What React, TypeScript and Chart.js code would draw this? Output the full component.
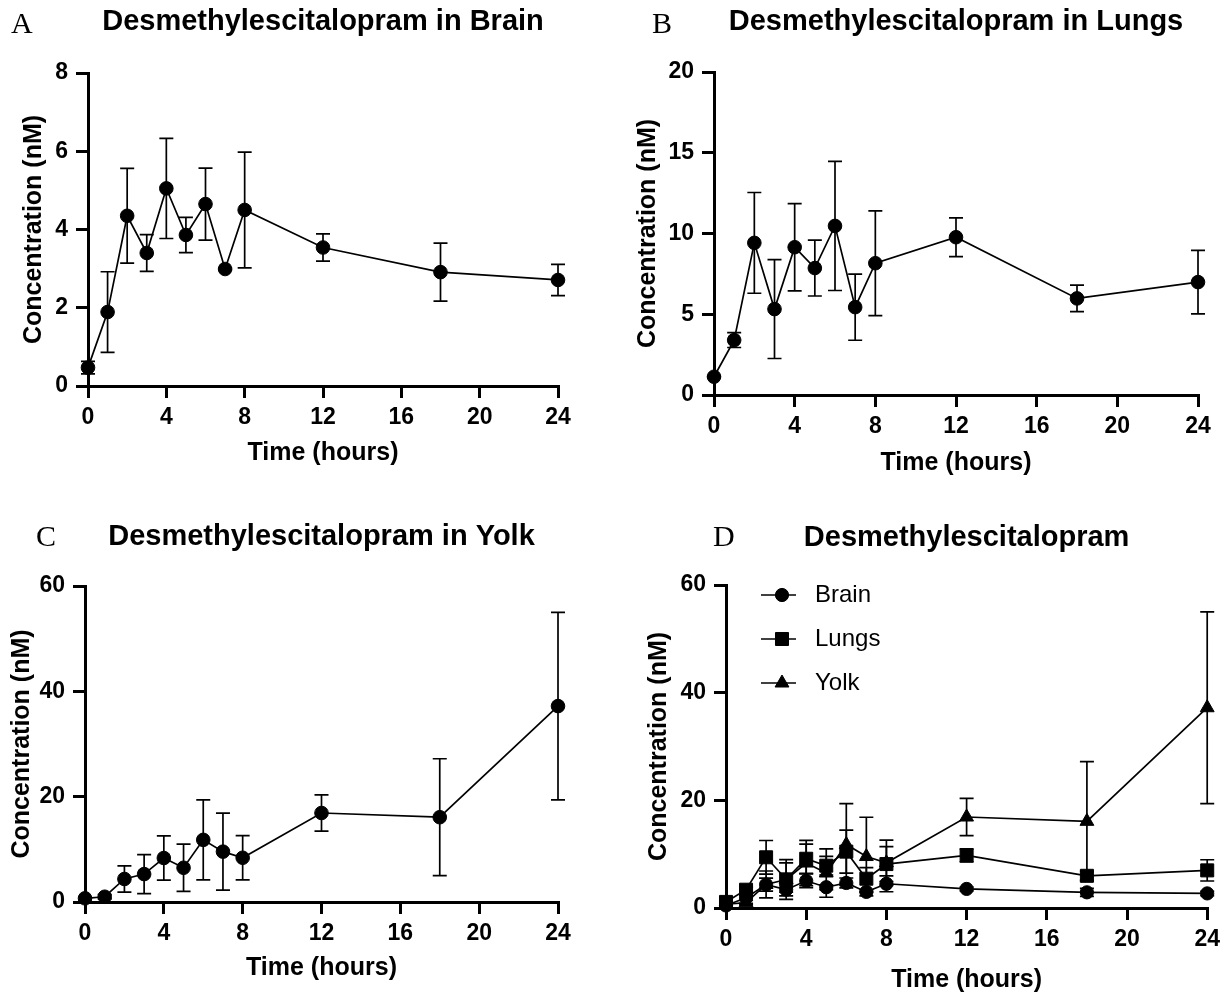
import React, { useEffect, useRef } from 'react';
import { Chart, registerables } from 'chart.js';

Chart.register(...registerables);

// ---------- data ----------
const times = [0, 1, 2, 3, 4, 5, 6, 7, 8, 12, 18, 24];

const brainMean = [0.47, 1.89, 4.35, 3.4, 5.05, 3.86, 4.65, 2.99, 4.5, 3.54, 2.91, 2.71];
const brainSD = [0.16, 1.03, 1.21, 0.47, 1.28, 0.45, 0.92, 0.03, 1.48, 0.35, 0.74, 0.4];

const lungsMean = [1.13, 3.4, 9.42, 5.32, 9.15, 7.86, 10.47, 5.44, 8.16, 9.77, 5.98, 6.99];
const lungsSD = [0.05, 0.46, 3.12, 3.06, 2.7, 1.73, 4.0, 2.05, 3.24, 1.2, 0.82, 1.97];

const yolkMean = [0.7, 1.0, 4.37, 5.3, 8.35, 6.5, 11.8, 9.56, 8.4, 16.9, 16.1, 37.2];
const yolkSD = [0.3, 0.4, 2.5, 3.7, 4.2, 4.5, 7.6, 7.3, 4.2, 3.45, 11.1, 17.8];

const xTickValues = [0, 4, 8, 12, 16, 20, 24];
const brainYTicks = [0, 2, 4, 6, 8];
const lungsYTicks = [0, 5, 10, 15, 20];
const yolkYTicks = [0, 20, 40, 60];
const combinedYTicks = [0, 20, 40, 60];

const xAxisTitle = 'Time (hours)';
const yAxisTitle = 'Concentration (nM)';

// ---------- styles ----------
const SANS = "'Liberation Sans', Arial, Helvetica, sans-serif";
const SERIF = "'Liberation Serif', 'Times New Roman', serif";
const W = 613;
const H = 498;
const TITLE_SIZE = 29;
const AXIS_TITLE_SIZE = 25;
const TICK_SIZE = 23;

type Series = { label: string; mean: number[]; sd: number[]; style: string; radius: number };
type Panel = {
  left: number;
  top: number;
  letter: string;
  letterX: number;
  letterY: number;
  title: string;
  titleCenter: number;
  area: { l: number; t: number; r: number; b: number };
  yTicks: number[];
  yTitleCenter: number;
  xTitleFromBottom: number;
  series: Series[];
  legend?: { x0: number; x1: number; mx: number; tx: number; rows: number[] };
};

const panels: Panel[] = [
  {
    left: 0, top: 0, letter: 'A', letterX: 11, letterY: 33,
    title: 'Desmethylescitalopram in Brain', titleCenter: 22,
    area: { l: 88, t: 73, r: 558, b: 386 },
    yTicks: brainYTicks, yTitleCenter: 34, xTitleFromBottom: 45,
    series: [{ label: 'Brain', mean: brainMean, sd: brainSD, style: 'circle', radius: 6.8 }],
  },
  {
    left: 613, top: 0, letter: 'B', letterX: 39, letterY: 33,
    title: 'Desmethylescitalopram in Lungs', titleCenter: 22,
    area: { l: 101, t: 72, r: 585, b: 395 },
    yTicks: lungsYTicks, yTitleCenter: 35, xTitleFromBottom: 35,
    series: [{ label: 'Lungs', mean: lungsMean, sd: lungsSD, style: 'circle', radius: 6.8 }],
  },
  {
    left: 0, top: 498, letter: 'C', letterX: 36, letterY: 48,
    title: 'Desmethylescitalopram in Yolk', titleCenter: 39,
    area: { l: 85, t: 88, r: 558, b: 404 },
    yTicks: yolkYTicks, yTitleCenter: 22, xTitleFromBottom: 28,
    series: [{ label: 'Yolk', mean: yolkMean, sd: yolkSD, style: 'circle', radius: 6.8 }],
  },
  {
    left: 613, top: 498, letter: 'D', letterX: 100, letterY: 48,
    title: 'Desmethylescitalopram', titleCenter: 39.5,
    area: { l: 113, t: 87, r: 595, b: 410 },
    yTicks: combinedYTicks, yTitleCenter: 46, xTitleFromBottom: 16,
    series: [
      { label: 'Brain', mean: brainMean, sd: brainSD, style: 'circle', radius: 6.6 },
      { label: 'Lungs', mean: lungsMean, sd: lungsSD, style: 'rect', radius: 9.2 },
      { label: 'Yolk', mean: yolkMean, sd: yolkSD, style: 'triangle', radius: 8 },
    ],
    legend: { x0: 35, x1: 70, mx: 56, tx: 89, rows: [10, 54, 98] },
  },
];

// ---------- plugins ----------
function drawMarker(ctx: CanvasRenderingContext2D, style: string, x: number, y: number, r: number) {
  ctx.beginPath();
  if (style === 'rect') {
    const s = r * Math.SQRT1_2;
    ctx.rect(x - s, y - s, 2 * s, 2 * s);
  } else if (style === 'triangle') {
    let rad = 0;
    ctx.moveTo(x + Math.sin(rad) * r, y - Math.cos(rad) * r);
    rad += (2 * Math.PI) / 3;
    ctx.lineTo(x + Math.sin(rad) * r, y - Math.cos(rad) * r);
    rad += (2 * Math.PI) / 3;
    ctx.lineTo(x + Math.sin(rad) * r, y - Math.cos(rad) * r);
    ctx.closePath();
  } else {
    ctx.arc(x, y, r, 0, Math.PI * 2);
  }
  ctx.fill();
  ctx.stroke();
}

const errorBarPlugin = {
  id: 'errorBars',
  beforeDatasetsDraw(chart: any) {
    const { ctx } = chart;
    const xs = chart.scales.x;
    const ys = chart.scales.y;
    ctx.save();
    ctx.strokeStyle = '#000';
    ctx.lineWidth = 1.7;
    ctx.lineCap = 'butt';
    chart.data.datasets.forEach((ds: any) => {
      const errs: number[] = ds.errors || [];
      ds.data.forEach((p: any, j: number) => {
        const e = errs[j];
        if (!e) return;
        const px = xs.getPixelForValue(p.x);
        const pt = ys.getPixelForValue(p.y + e);
        const pb = ys.getPixelForValue(p.y - e);
        const cap = 7;
        ctx.beginPath();
        ctx.moveTo(px, pt);
        ctx.lineTo(px, pb);
        ctx.moveTo(px - cap, pt);
        ctx.lineTo(px + cap, pt);
        ctx.moveTo(px - cap, pb);
        ctx.lineTo(px + cap, pb);
        ctx.stroke();
      });
    });
    ctx.restore();
  },
};

const letterPlugin = {
  id: 'panelLetter',
  afterDraw(chart: any, _args: any, opts: any) {
    if (!opts || !opts.text) return;
    const { ctx } = chart;
    ctx.save();
    ctx.fillStyle = '#000';
    ctx.font = `30px ${SERIF}`;
    ctx.textAlign = 'left';
    ctx.textBaseline = 'alphabetic';
    ctx.fillText(opts.text, opts.x, opts.y);
    ctx.restore();
  },
};

const legendPlugin = {
  id: 'seriesLegend',
  afterDraw(chart: any, _args: any, opts: any) {
    if (!opts || !opts.show) return;
    const { ctx, chartArea } = chart;
    ctx.save();
    chart.data.datasets.forEach((ds: any, i: number) => {
      const y = chartArea.top + opts.rows[i];
      ctx.strokeStyle = '#000';
      ctx.fillStyle = '#000';
      ctx.lineWidth = 1.7;
      ctx.beginPath();
      ctx.moveTo(chartArea.left + opts.x0, y);
      ctx.lineTo(chartArea.left + opts.x1, y);
      ctx.stroke();
      ctx.lineWidth = 1;
      drawMarker(ctx, ds.pointStyle, chartArea.left + opts.mx, y, ds.pointRadius);
      ctx.font = `24px ${SANS}`;
      ctx.textAlign = 'left';
      ctx.textBaseline = 'middle';
      ctx.fillText(ds.label, chartArea.left + opts.tx, y);
    });
    ctx.restore();
  },
};

// ---------- chart ----------
function PanelChart({ p }: { p: Panel }) {
  const ref = useRef<HTMLCanvasElement>(null);
  useEffect(() => {
    const canvas = ref.current;
    if (!canvas) return;
    const titleLH = TITLE_SIZE * 1.2;
    const axisLH = AXIS_TITLE_SIZE * 1.2;
    const axisCommon = {
      grid: {
        display: true,
        drawOnChartArea: false,
        drawTicks: true,
        tickLength: 12,
        tickWidth: 3,
        tickColor: '#000',
        color: '#000',
        lineWidth: 3,
      },
      border: { display: true, color: '#000', width: 3 },
    };
    const chart = new Chart(canvas, {
      type: 'line',
      data: {
        datasets: p.series.map((s) => ({
          label: s.label,
          data: times.map((t, i) => ({ x: t, y: s.mean[i] })),
          errors: s.sd,
          borderColor: '#000',
          backgroundColor: '#000',
          borderWidth: 1.7,
          pointStyle: s.style,
          pointRadius: s.radius,
          pointHoverRadius: s.radius,
          pointBackgroundColor: '#000',
          pointBorderColor: '#000',
          pointBorderWidth: 1,
          tension: 0,
          fill: false,
          clip: false,
        })) as any,
      },
      options: {
        animation: false,
        responsive: false,
        maintainAspectRatio: false,
        devicePixelRatio: 1,
        events: [],
        layout: { padding: { left: 0, top: 0, right: W - p.area.r, bottom: 0 } },
        plugins: {
          legend: { display: false },
          tooltip: { enabled: false },
          title: {
            display: true,
            text: p.title,
            fullSize: false,
            align: 'center',
            color: '#000',
            font: { family: SANS, size: TITLE_SIZE, weight: 'bold', lineHeight: 1.2 },
            padding: {
              top: p.titleCenter - titleLH / 2,
              bottom: p.area.t - (p.titleCenter + titleLH / 2),
            },
          },
          panelLetter: { text: p.letter, x: p.letterX, y: p.letterY },
          seriesLegend: p.legend ? { show: true, ...p.legend } : { show: false },
        } as any,
        scales: {
          x: {
            type: 'linear',
            min: xTickValues[0],
            max: xTickValues[xTickValues.length - 1],
            afterBuildTicks: (s: any) => {
              s.ticks = xTickValues.map((v) => ({ value: v }));
            },
            afterFit: (s: any) => {
              s.height = H - p.area.b;
            },
            ticks: {
              autoSkip: false,
              maxRotation: 0,
              padding: 6,
              color: '#000',
              font: { family: SANS, size: TICK_SIZE, weight: 'bold' },
            },
            title: {
              display: true,
              text: xAxisTitle,
              color: '#000',
              font: { family: SANS, size: AXIS_TITLE_SIZE, weight: 'bold', lineHeight: 1.2 },
              padding: { top: 0, bottom: p.xTitleFromBottom - axisLH / 2 },
            },
            ...axisCommon,
          },
          y: {
            type: 'linear',
            min: p.yTicks[0],
            max: p.yTicks[p.yTicks.length - 1],
            afterBuildTicks: (s: any) => {
              s.ticks = p.yTicks.map((v) => ({ value: v }));
            },
            afterFit: (s: any) => {
              s.width = p.area.l;
            },
            ticks: {
              autoSkip: false,
              padding: 8,
              color: '#000',
              font: { family: SANS, size: TICK_SIZE, weight: 'bold' },
            },
            title: {
              display: true,
              text: yAxisTitle,
              color: '#000',
              font: { family: SANS, size: AXIS_TITLE_SIZE, weight: 'bold', lineHeight: 1.2 },
              padding: { top: p.yTitleCenter - axisLH / 2, bottom: 0 },
            },
            ...axisCommon,
          },
        } as any,
      },
      plugins: [errorBarPlugin, letterPlugin, legendPlugin],
    });
    return () => chart.destroy();
  }, [p]);
  return (
    <canvas
      ref={ref}
      width={W}
      height={H}
      style={{ position: 'absolute', left: p.left, top: p.top, width: W, height: H }}
    />
  );
}

export default function App() {
  return (
    <div
      style={{
        position: 'absolute',
        left: 0,
        top: 0,
        width: 1226,
        height: 996,
        background: '#fff',
        overflow: 'hidden',
      }}
    >
      {panels.map((p) => (
        <PanelChart key={p.letter} p={p} />
      ))}
    </div>
  );
}
